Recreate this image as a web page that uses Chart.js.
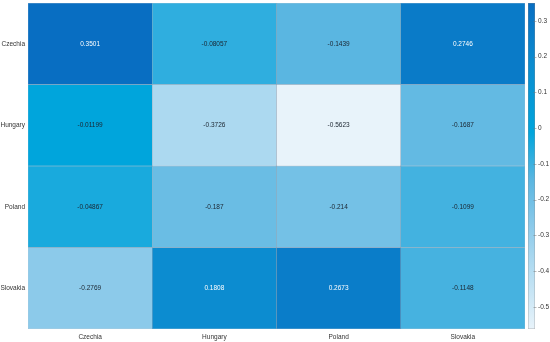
<!DOCTYPE html>
<html>
<head>
<meta charset="utf-8">
<script src="https://cdn.jsdelivr.net/npm/chart.js@4"></script>
<style>
  html, body { margin: 0; padding: 0; background: #fff; }
  canvas { display: block; }
</style>
</head>
<body>
<canvas id="heat" width="550" height="342"></canvas>
<script>
const rowLabels = ['Czechia', 'Hungary', 'Poland', 'Slovakia'];
const colLabels = ['Czechia', 'Hungary', 'Poland', 'Slovakia'];

const czechiaRow = [0.3501, -0.08057, -0.1439, 0.2746];
const hungaryRow = [-0.01199, -0.3726, -0.5623, -0.1687];
const polandRow = [-0.04867, -0.187, -0.214, -0.1099];
const slovakiaRow = [-0.2769, 0.1808, 0.2673, -0.1148];

const colorbarTicks = [-0.5, -0.4, -0.3, -0.2, -0.1, 0, 0.1, 0.2, 0.3];

const rows = [czechiaRow, hungaryRow, polandRow, slovakiaRow];
const allVals = rows.flat();
const vMin = Math.min(...allVals);
const vMax = Math.max(...allVals);

// light -> dark blue colormap, t in [0,1]
const cmap = [
    [0.000, [232, 243, 250]],
    [0.208, [172, 217, 240]],
    [0.313, [140, 202, 234]],
    [0.459, [90, 182, 225]],
    [0.603, [0, 165, 220]],
    [0.814, [12, 140, 208]],
    [1.000, [8, 110, 194]]
];

function colorAt(t) {
    t = Math.max(0, Math.min(1, t));
    for (let i = 1; i < cmap.length; i++) {
        if (t <= cmap[i][0]) {
            const [t0, c0] = cmap[i - 1];
            const [t1, c1] = cmap[i];
            const f = (t - t0) / (t1 - t0);
            const c = c0.map((v, k) => Math.round(v + (c1[k] - v) * f));
            return `rgb(${c[0]},${c[1]},${c[2]})`;
        }
    }
    return 'rgb(8,110,194)';
}

function colorFor(v) {
    return colorAt((v - vMin) / (vMax - vMin));
}

const font = { family: '"Liberation Sans", Arial, sans-serif', size: 6.5 };

// drop the half-label padding chart.js adds above/below vertical axes
function noVertPad(s) {
    s.paddingTop = 0;
    s.paddingBottom = 0;
}

const cellText = {
    id: 'cellText',
    afterDatasetsDraw(chart) {
        const ctx = chart.ctx;
        ctx.save();
        ctx.font = `${font.size}px ${font.family}`;
        ctx.textAlign = 'center';
        ctx.textBaseline = 'middle';
        chart.data.datasets.forEach((ds, r) => {
            chart.getDatasetMeta(r).data.forEach((el, c) => {
                const v = ds.values[c];
                ctx.fillStyle = v > 0.1 ? '#ffffff' : '#1b2530';
                ctx.fillText(String(v), el.x, (el.y + el.base) / 2);
            });
        });
        ctx.restore();
    }
};

const colorbar = {
    id: 'colorbar',
    afterDraw(chart) {
        const ctx = chart.ctx;
        const s = chart.scales.cb;
        const x0 = chart.chartArea.right + 3;
        const w = 7;
        const top = s.getPixelForValue(vMax);
        const bottom = s.getPixelForValue(vMin);
        const grad = ctx.createLinearGradient(0, bottom, 0, top);
        cmap.forEach(([t]) => grad.addColorStop(t, colorAt(t)));
        ctx.save();
        ctx.fillStyle = grad;
        ctx.fillRect(x0, top, w, bottom - top);
        ctx.strokeStyle = 'rgba(140,140,140,0.6)';
        ctx.lineWidth = 0.5;
        ctx.strokeRect(x0 + 0.25, top + 0.25, w - 0.5, bottom - top - 0.5);
        ctx.strokeStyle = '#777';
        s.ticks.forEach(t => {
            const y = Math.round(s.getPixelForValue(t.value)) + 0.5;
            ctx.beginPath();
            ctx.moveTo(x0 + w - 1.5, y);
            ctx.lineTo(x0 + w + 1.5, y);
            ctx.stroke();
        });
        ctx.restore();
    }
};

new Chart(document.getElementById('heat'), {
    type: 'bar',
    data: {
        labels: colLabels,
        datasets: rows.map((vals, r) => ({
            label: rowLabels[r],
            data: vals.map(() => [r, r + 1]),
            values: vals,
            backgroundColor: vals.map(colorFor),
            borderColor: 'rgba(0,40,80,0.3)',
            borderWidth: 0.5,
            borderSkipped: false,
            grouped: false,
            barPercentage: 1,
            categoryPercentage: 1,
            yAxisID: 'y'
        }))
    },
    options: {
        responsive: false,
        animation: false,
        layout: { padding: { top: 3, left: 0, right: 0, bottom: 0 } },
        plugins: { legend: { display: false }, tooltip: { enabled: false } },
        scales: {
            x: {
                type: 'category',
                grid: { display: false, drawTicks: false },
                border: { display: false },
                ticks: { padding: 4, color: '#333', font: font, maxRotation: 0 },
                afterFit: s => { s.height = 13; }
            },
            y: {
                type: 'linear',
                position: 'left',
                min: 0,
                max: 4,
                reverse: true,
                grid: { display: false, drawTicks: false },
                border: { display: false },
                afterBuildTicks: s => { s.ticks = rowLabels.map((_, i) => ({ value: i + 0.5 })); },
                ticks: { padding: 3, color: '#333', font: font, callback: v => rowLabels[Math.floor(v)] },
                afterFit: s => { s.width = 28; noVertPad(s); }
            },
            cb: {
                type: 'linear',
                position: 'right',
                min: vMin,
                max: vMax,
                grid: { display: false, drawTicks: false },
                border: { display: false },
                afterBuildTicks: s => { s.ticks = colorbarTicks.map(v => ({ value: v })); },
                ticks: { padding: 13, color: '#333', font: font, callback: v => String(v) },
                afterFit: s => { s.width = 25; noVertPad(s); }
            }
        }
    },
    plugins: [cellText, colorbar]
});
</script>
</body>
</html>
